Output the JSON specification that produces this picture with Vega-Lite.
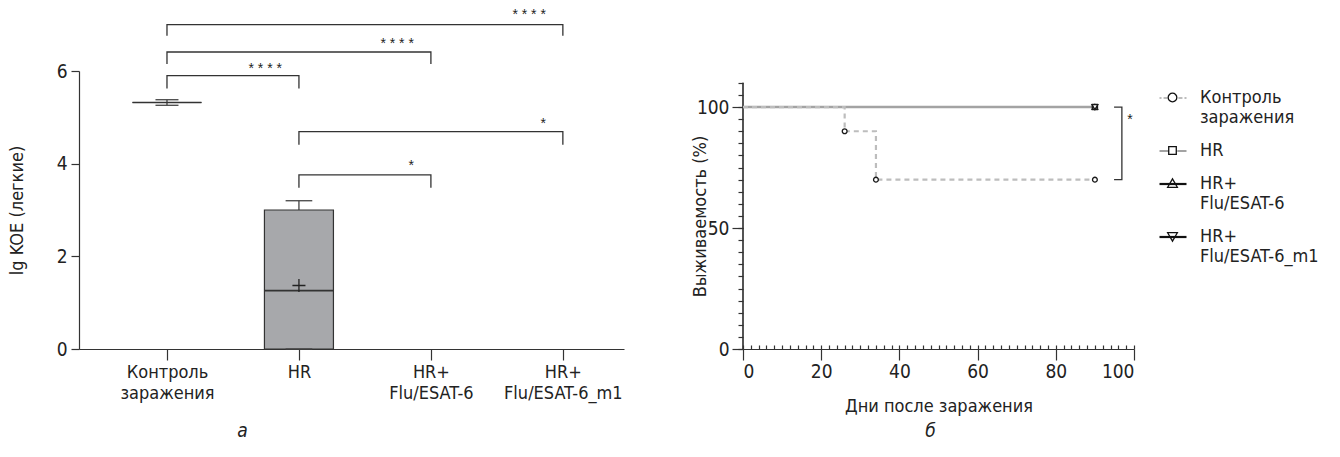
{
  "$schema": "https://vega.github.io/schema/vega-lite/v6.json",
  "background": "white",
  "padding": {"left": 8, "top": 8, "right": 5, "bottom": 5},
  "bounds": "flush",
  "spacing": 119,
  "config": {
    "font": "Liberation Sans Narrow, DejaVu Sans Condensed, sans-serif",
    "view": {"stroke": null},
    "axis": {"labelFontSize": 19, "titleFontSize": 18, "labelColor": "#222", "titleColor": "#222", "domainColor": "#333", "tickColor": "#333", "domainWidth": 1.2, "tickWidth": 1.2, "grid": false, "titleFontWeight": "normal"},
    "title": {"fontSize": 19, "fontWeight": "normal", "fontStyle": "italic", "color": "#222"}
  },
  "datasets": {
    "stats": [
      {"g": "Контроль заражения", "lo": 5.26, "q1": 5.32, "med": 5.32, "q3": 5.32, "hi": 5.38, "mean": null},
      {"g": "HR", "lo": 0, "q1": 0, "med": 1.26, "q3": 3.0, "hi": 3.2, "mean": 1.37}
    ],
    "br": [
      {"b": 1, "o": 0, "g": "Контроль заражения", "y": 6.76},
      {"b": 1, "o": 1, "g": "Контроль заражения", "y": 7.0},
      {"b": 1, "o": 2, "g": "HR+ Flu/ESAT-6_m1", "y": 7.0},
      {"b": 1, "o": 3, "g": "HR+ Flu/ESAT-6_m1", "y": 6.76},
      {"b": 2, "o": 0, "g": "Контроль заражения", "y": 6.15},
      {"b": 2, "o": 1, "g": "Контроль заражения", "y": 6.41},
      {"b": 2, "o": 2, "g": "HR+ Flu/ESAT-6", "y": 6.41},
      {"b": 2, "o": 3, "g": "HR+ Flu/ESAT-6", "y": 6.15},
      {"b": 3, "o": 0, "g": "Контроль заражения", "y": 5.62},
      {"b": 3, "o": 1, "g": "Контроль заражения", "y": 5.9},
      {"b": 3, "o": 2, "g": "HR", "y": 5.9},
      {"b": 3, "o": 3, "g": "HR", "y": 5.62},
      {"b": 4, "o": 0, "g": "HR", "y": 4.41},
      {"b": 4, "o": 1, "g": "HR", "y": 4.69},
      {"b": 4, "o": 2, "g": "HR+ Flu/ESAT-6_m1", "y": 4.69},
      {"b": 4, "o": 3, "g": "HR+ Flu/ESAT-6_m1", "y": 4.41},
      {"b": 5, "o": 0, "g": "HR", "y": 3.48},
      {"b": 5, "o": 1, "g": "HR", "y": 3.76},
      {"b": 5, "o": 2, "g": "HR+ Flu/ESAT-6", "y": 3.76},
      {"b": 5, "o": 3, "g": "HR+ Flu/ESAT-6", "y": 3.48}
    ],
    "stars": [
      {"g": "HR+ Flu/ESAT-6_m1", "y": 7.12, "t": "* * * *"},
      {"g": "HR+ Flu/ESAT-6", "y": 6.49, "t": "* * * *"},
      {"g": "HR", "y": 5.95, "t": "* * * *"},
      {"g": "HR+ Flu/ESAT-6_m1", "y": 4.78, "t": "*"},
      {"g": "HR+ Flu/ESAT-6", "y": 3.86, "t": "*"}
    ],
    "surv": [
      {"g": "Контроль заражения", "day": 0, "s": 100},
      {"g": "Контроль заражения", "day": 26, "s": 90},
      {"g": "Контроль заражения", "day": 34, "s": 70},
      {"g": "Контроль заражения", "day": 90, "s": 70},
      {"g": "HR", "day": 0, "s": 100},
      {"g": "HR", "day": 90, "s": 100},
      {"g": "HR+ Flu/ESAT-6", "day": 0, "s": 100},
      {"g": "HR+ Flu/ESAT-6", "day": 90, "s": 100},
      {"g": "HR+ Flu/ESAT-6_m1", "day": 0, "s": 100},
      {"g": "HR+ Flu/ESAT-6_m1", "day": 90, "s": 100}
    ],
    "pts": [
      {"g": "Контроль заражения", "day": 26, "s": 90},
      {"g": "Контроль заражения", "day": 34, "s": 70},
      {"g": "Контроль заражения", "day": 90, "s": 70},
      {"g": "HR", "day": 90, "s": 100},
      {"g": "HR+ Flu/ESAT-6", "day": 90, "s": 100},
      {"g": "HR+ Flu/ESAT-6_m1", "day": 90, "s": 100}
    ],
    "rb": [
      {"o": 0, "day": 94.9, "s": 100},
      {"o": 1, "day": 96.9, "s": 100},
      {"o": 2, "day": 96.9, "s": 70},
      {"o": 3, "day": 94.9, "s": 70}
    ],
    "rstar": [{"day": 99, "s": 92.8, "t": "*"}],
    "groups": [
      {"g": "Контроль заражения"},
      {"g": "HR"},
      {"g": "HR+ Flu/ESAT-6"},
      {"g": "HR+ Flu/ESAT-6_m1"}
    ]
  },
  "hconcat": [
    {
      "width": 545,
      "height": 278,
      "title": {"text": "а", "orient": "bottom", "dx": -109, "offset": 20},
      "layer": [
        {
          "data": {"name": "stats"},
          "mark": {"type": "bar", "size": 69, "fill": "#a7a8ab", "stroke": "#333", "strokeWidth": 1.2},
          "encoding": {
            "x": {"field": "g", "type": "nominal",
              "scale": {"type": "point", "domain": ["Контроль заражения", "HR", "HR+ Flu/ESAT-6", "HR+ Flu/ESAT-6_m1"], "padding": 0.565, "align": 0.59},
              "axis": {"title": null, "labelAngle": 0, "tickSize": 11, "labelPadding": 3, "labelFontSize": 18, "labelLineHeight": 21, "labelExpr": "split(datum.label, ' ')", "labelBaseline": "top"}},
            "y": {"field": "q1", "type": "quantitative", "scale": {"domain": [0, 6], "nice": false},
              "axis": {"values": [0, 2, 4, 6], "tickSize": 8, "labelPadding": 4, "title": "lg KOE (легкие)", "titleX": -62, "titleY": 139, "titleAngle": -90, "titleBaseline": "middle", "titleAlign": "center"}},
            "y2": {"field": "q3"}
          }
        },
        {
          "data": {"name": "stats"},
          "mark": {"type": "rule", "color": "#333", "strokeWidth": 1.2},
          "encoding": {
            "x": {"field": "g", "type": "nominal"},
            "y": {"field": "q3", "type": "quantitative"},
            "y2": {"field": "hi"}
          }
        },
        {
          "data": {"name": "stats"},
          "mark": {"type": "rule", "color": "#333", "strokeWidth": 1.2},
          "encoding": {
            "x": {"field": "g", "type": "nominal"},
            "y": {"field": "lo", "type": "quantitative"},
            "y2": {"field": "q1"}
          }
        },
        {
          "data": {"name": "stats"},
          "mark": {"type": "tick", "color": "#444", "thickness": 1.3, "opacity": 1},
          "encoding": {
            "x": {"field": "g", "type": "nominal"},
            "y": {"field": "hi", "type": "quantitative"},
            "size": {"field": "g", "type": "nominal", "scale": {"domain": ["Контроль заражения", "HR"], "range": [23, 34]}, "legend": null}
          }
        },
        {
          "data": {"name": "stats"},
          "mark": {"type": "tick", "color": "#444", "thickness": 1.3, "opacity": 1},
          "encoding": {
            "x": {"field": "g", "type": "nominal"},
            "y": {"field": "lo", "type": "quantitative"},
            "size": {"field": "g", "type": "nominal", "legend": null}
          }
        },
        {
          "data": {"name": "stats"},
          "mark": {"type": "tick", "color": "#333", "thickness": 1.6, "size": 69, "opacity": 1},
          "encoding": {
            "x": {"field": "g", "type": "nominal"},
            "y": {"field": "med", "type": "quantitative"}
          }
        },
        {
          "data": {"name": "stats"},
          "mark": {"type": "point", "shape": "M-1,0H1M0,-1V1", "size": 170, "filled": false, "stroke": "#222", "strokeWidth": 1.3, "opacity": 1},
          "encoding": {
            "x": {"field": "g", "type": "nominal"},
            "y": {"field": "mean", "type": "quantitative"}
          }
        },
        {
          "data": {"name": "br"},
          "mark": {"type": "line", "color": "#333", "strokeWidth": 1.3, "clip": false},
          "encoding": {
            "x": {"field": "g", "type": "nominal"},
            "y": {"field": "y", "type": "quantitative"},
            "detail": {"field": "b"},
            "order": {"field": "o"}
          }
        },
        {
          "data": {"name": "stars"},
          "mark": {"type": "text", "font": "Liberation Sans", "fontSize": 14, "align": "right", "baseline": "alphabetic", "dx": -17, "color": "#222"},
          "encoding": {
            "x": {"field": "g", "type": "nominal"},
            "y": {"field": "y", "type": "quantitative"},
            "text": {"field": "t"}
          }
        }
      ]
    },
    {
      "width": 391,
      "height": 278,
      "title": {"text": "б", "orient": "bottom", "dx": -8, "offset": 7},
      "resolve": {"scale": {"shape": "independent", "stroke": "independent"}, "axis": {"x": "independent", "y": "independent"}, "legend": {"shape": "independent", "stroke": "independent"}},
      "layer": [
        {
          "data": {"values": [{"axis": "main"}]},
          "mark": {"type": "rule", "color": "#333", "strokeWidth": 1.2},
          "encoding": {
            "x": {"datum": 0, "type": "quantitative", "scale": {"domain": [0, 100], "nice": false},
              "axis": {"orient": "bottom", "values": [0, 20, 40, 60, 80, 100], "tickSize": 11, "labelPadding": 2, "title": "Дни после заражения", "titlePadding": 16}},
            "y": {"datum": 0, "type": "quantitative", "scale": {"domain": [0, 114.9], "nice": false},
              "axis": {"orient": "left", "values": [0, 50, 100], "tickSize": 11, "labelPadding": 3, "domain": false, "title": "Выживаемость (%)", "titleX": -43, "titleY": 145, "titleAngle": -90, "titleBaseline": "middle", "titleAlign": "center"}},
            "y2": {"datum": 110}
          }
        },
        {
          "data": {"values": [{"axis": "minor"}]},
          "mark": {"type": "rule", "color": "#333", "strokeWidth": 1.2},
          "encoding": {
            "x": {"datum": 0, "type": "quantitative",
              "axis": {"orient": "bottom", "values": [0, 2, 4, 6, 8, 10, 12, 14, 16, 18, 20, 22, 24, 26, 28, 30, 32, 34, 36, 38, 40, 42, 44, 46, 48, 50, 52, 54, 56, 58, 60, 62, 64, 66, 68, 70, 72, 74, 76, 78, 80, 82, 84, 86, 88, 90, 92, 94, 96, 98, 100], "tickSize": 4, "offset": -4, "labels": false, "domain": false, "title": null}},
            "y": {"datum": 0, "type": "quantitative",
              "axis": {"orient": "right", "offset": -396, "values": [0, 5, 10, 15, 20, 25, 30, 35, 40, 45, 50, 55, 60, 65, 70, 75, 80, 85, 90, 95, 100, 105, 110], "tickSize": 5, "labels": false, "domain": false, "title": null}},
            "y2": {"datum": 110}
          }
        },
        {
          "data": {"name": "surv"},
          "transform": [{"filter": "datum.g == 'HR+ Flu/ESAT-6' || datum.g == 'HR+ Flu/ESAT-6_m1'"}],
          "mark": {"type": "line", "color": "#111", "strokeWidth": 2},
          "encoding": {
            "x": {"field": "day", "type": "quantitative", "axis": null},
            "y": {"field": "s", "type": "quantitative", "axis": null},
            "detail": {"field": "g"}
          }
        },
        {
          "data": {"name": "surv"},
          "transform": [{"filter": "datum.g == 'HR'"}],
          "mark": {"type": "line", "color": "#a3a3a3", "strokeWidth": 2.6},
          "encoding": {
            "x": {"field": "day", "type": "quantitative", "axis": null},
            "y": {"field": "s", "type": "quantitative", "axis": null}
          }
        },
        {
          "data": {"name": "surv"},
          "transform": [{"filter": "datum.g == 'Контроль заражения'"}],
          "mark": {"type": "line", "color": "#bdbdbd", "strokeWidth": 2.2, "strokeDash": [5, 4], "interpolate": "step-after"},
          "encoding": {
            "x": {"field": "day", "type": "quantitative", "axis": null},
            "y": {"field": "s", "type": "quantitative", "axis": null}
          }
        },
        {
          "data": {"name": "pts"},
          "mark": {"type": "point", "filled": false, "fill": "white", "stroke": "#1a1a1a", "strokeWidth": 1.3, "opacity": 1},
          "encoding": {
            "x": {"field": "day", "type": "quantitative", "axis": null},
            "y": {"field": "s", "type": "quantitative", "axis": null},
            "shape": {"field": "g", "type": "nominal", "scale": {"domain": ["Контроль заражения", "HR", "HR+ Flu/ESAT-6", "HR+ Flu/ESAT-6_m1"], "range": ["circle", "square", "triangle-up", "triangle-down"]}, "legend": null},
            "size": {"field": "g", "type": "nominal", "scale": {"domain": ["Контроль заражения", "HR", "HR+ Flu/ESAT-6", "HR+ Flu/ESAT-6_m1"], "range": [135, 100, 60, 60]}, "legend": null}
          }
        },
        {
          "data": {"name": "rb"},
          "mark": {"type": "line", "color": "#333", "strokeWidth": 1.3},
          "encoding": {
            "x": {"field": "day", "type": "quantitative", "axis": null},
            "y": {"field": "s", "type": "quantitative", "axis": null},
            "order": {"field": "o"}
          }
        },
        {
          "data": {"name": "rstar"},
          "mark": {"type": "text", "font": "Liberation Sans", "fontSize": 14, "align": "center", "baseline": "alphabetic", "color": "#222"},
          "encoding": {
            "x": {"field": "day", "type": "quantitative", "axis": null},
            "y": {"field": "s", "type": "quantitative", "axis": null},
            "text": {"field": "t"}
          }
        },
        {
          "data": {"name": "groups"},
          "mark": {"type": "point", "filled": false, "opacity": 0, "strokeWidth": 2.2},
          "encoding": {
            "shape": {"field": "g", "type": "nominal",
              "scale": {"domain": ["Контроль заражения", "HR", "HR+ Flu/ESAT-6", "HR+ Flu/ESAT-6_m1"],
                "range": ["M-1,0H-0.85M-0.7,0H-0.4M0.4,0H0.7M0.85,0H1", "M-1,0H-0.32M0.32,0H1", "M-1,0H1", "M-1,0H1"]},
              "legend": {"orient": "none", "legendX": 415, "legendY": 12, "title": null, "padding": 0, "rowPadding": 9, "labelFontSize": 18, "labelColor": "#222", "labelOffset": 12, "labelLimit": 300, "symbolSize": 729, "symbolStrokeWidth": 2.2, "symbolOpacity": 1, "labelExpr": "split(datum.label, ' ')", "encode": {"labels": {"update": {"lineHeight": {"value": 21}}}}}},
            "stroke": {"field": "g", "type": "nominal",
              "scale": {"domain": ["Контроль заражения", "HR", "HR+ Flu/ESAT-6", "HR+ Flu/ESAT-6_m1"], "range": ["#bdbdbd", "#a3a3a3", "#111111", "#111111"]},
              "legend": {"orient": "none", "legendX": 415, "legendY": 12, "title": null, "padding": 0, "rowPadding": 9, "labelFontSize": 18, "labelColor": "#222", "labelOffset": 12, "labelLimit": 300, "symbolSize": 729, "symbolStrokeWidth": 2.2, "symbolOpacity": 1, "labelExpr": "split(datum.label, ' ')", "encode": {"labels": {"update": {"lineHeight": {"value": 21}}}}}}
          }
        },
        {
          "data": {"name": "groups"},
          "mark": {"type": "point", "filled": false, "opacity": 0, "strokeWidth": 1.3},
          "encoding": {
            "shape": {"field": "g", "type": "nominal",
              "scale": {"domain": ["Контроль заражения", "HR", "HR+ Flu/ESAT-6", "HR+ Flu/ESAT-6_m1"],
                "range": ["M-0.32,0A0.32,0.32,0,1,0,0.32,0A0.32,0.32,0,1,0,-0.32,0Z", "M-0.28,-0.28H0.28V0.28H-0.28Z", "M0,-0.34L0.36,0.28H-0.36Z", "M0,0.34L0.36,-0.28H-0.36Z"]},
              "legend": {"orient": "none", "legendX": 415, "legendY": 12, "title": null, "padding": 0, "rowPadding": 9, "labelFontSize": 18, "labelColor": "#222", "labelOpacity": 0, "labelOffset": 12, "labelLimit": 300, "symbolSize": 729, "symbolStrokeWidth": 1.3, "symbolStrokeColor": "#111", "symbolOpacity": 1, "labelExpr": "split(datum.label, ' ')", "encode": {"labels": {"update": {"lineHeight": {"value": 21}}}}}}
          }
        }
      ]
    }
  ]
}
